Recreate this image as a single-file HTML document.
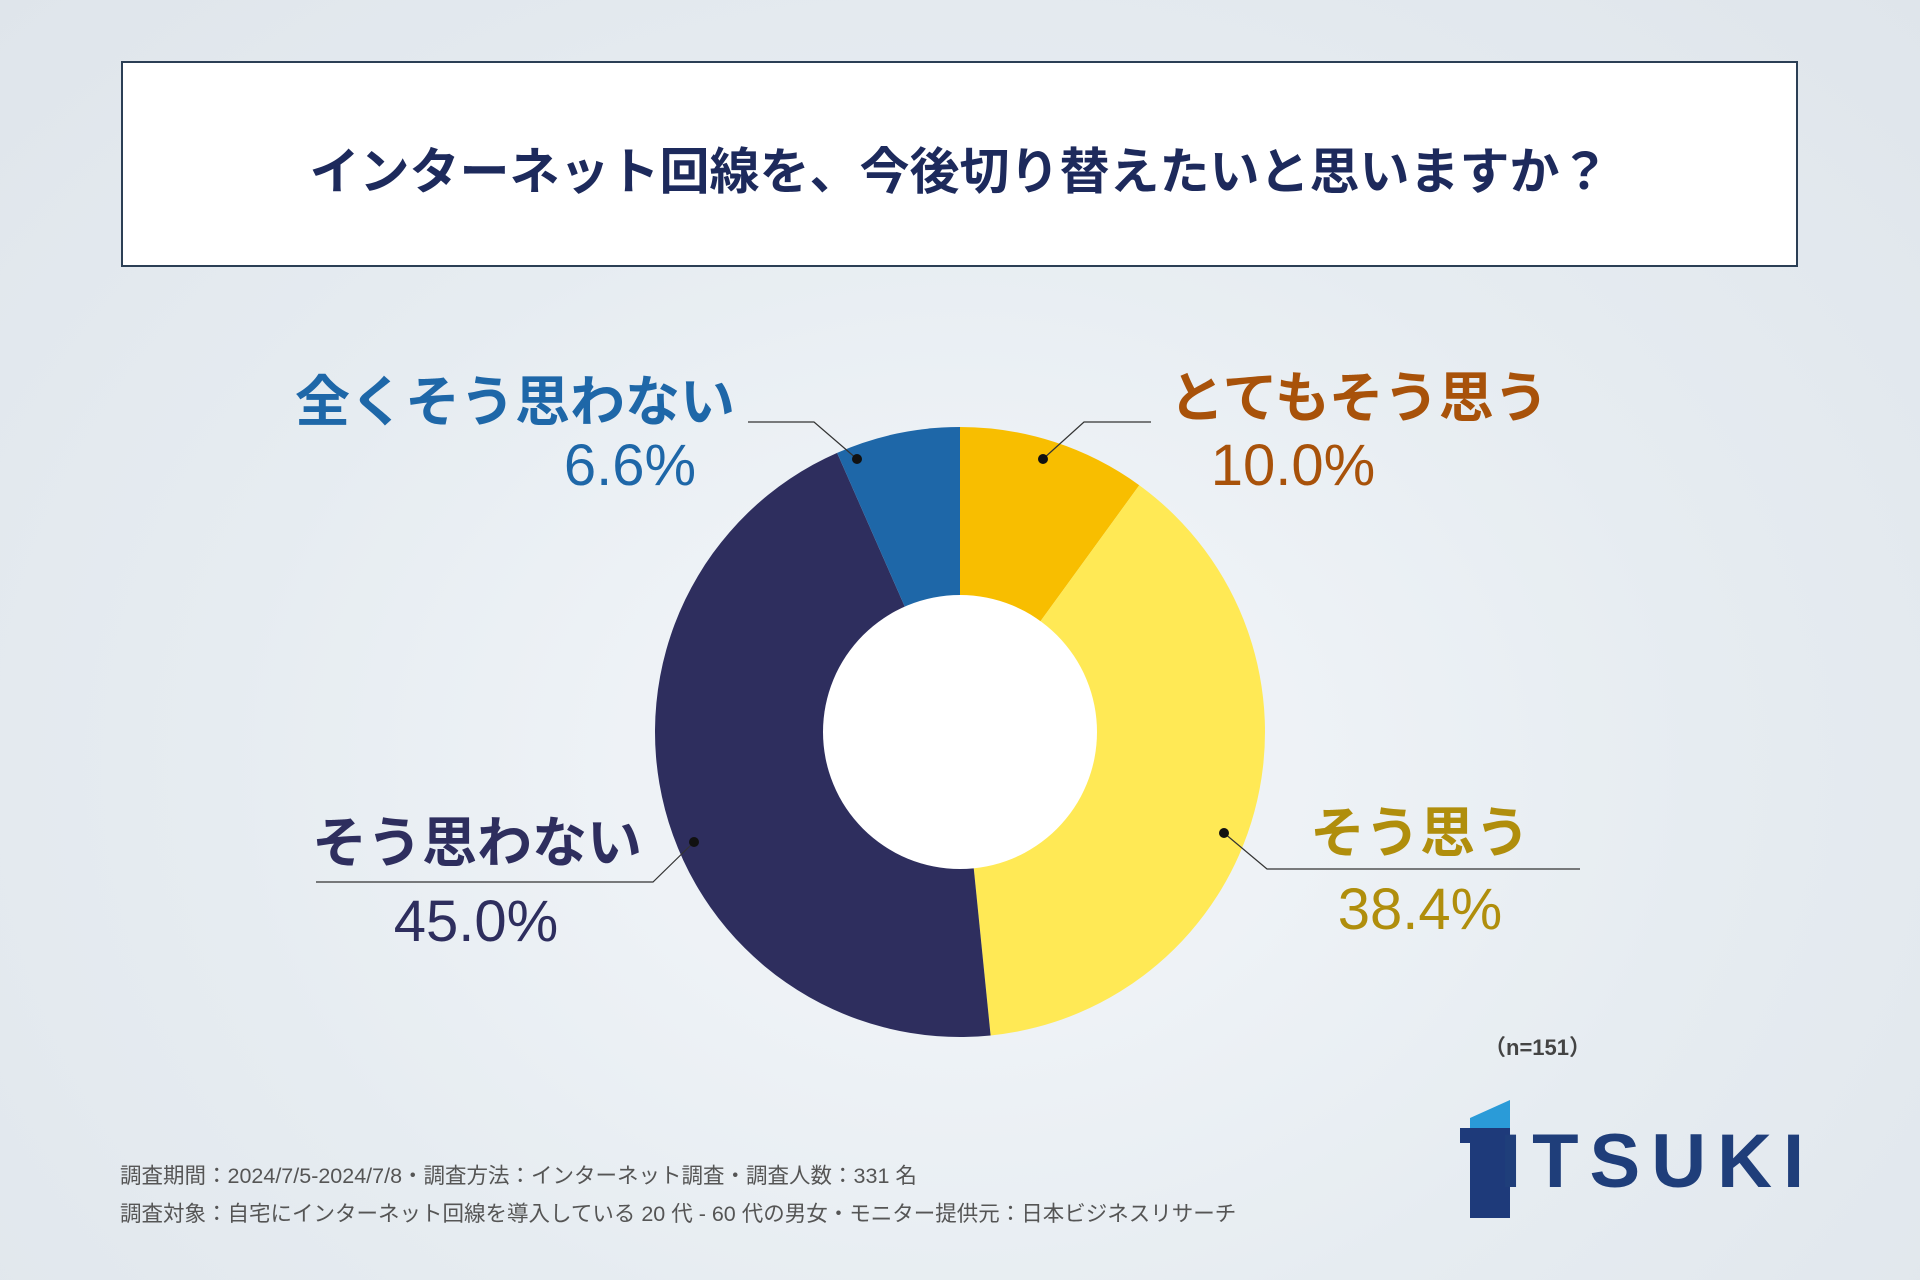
<!DOCTYPE html>
<html><head><meta charset="utf-8"><style>
body{margin:0;width:1920px;height:1280px;overflow:hidden;font-family:"Liberation Sans","Noto Sans CJK JP",sans-serif;}
#bg{position:absolute;left:0;top:0;width:1920px;height:1280px;background:radial-gradient(ellipse at 50% 60%,#f4f7fa 0%,#e6ecf1 55%,#dfe5eb 100%);}
.t{position:absolute;font-weight:700;white-space:nowrap;}
</style></head><body>
<div id="bg"></div>
<div style="position:absolute;left:121px;top:61px;width:1673px;height:202px;background:#fff;border:2px solid #2b3f55;"></div>
<div class="t" style="left:121px;width:1677px;top:132px;text-align:center;font-size:50px;color:#1d2a5c;">インターネット回線を、今後切り替えたいと思いますか？</div>
<svg id="chart" width="1920" height="1280" style="position:absolute;left:0;top:0"></svg>
<div class="t" style="left:1484px;top:1030px;font-size:22px;color:#444;">（n=151）</div>
<div class="t" style="left:120px;top:1159px;font-size:21.5px;color:#555;font-weight:400;">調査期間：2024/7/5-2024/7/8・調査方法：インターネット調査・調査人数：331 名</div>
<div class="t" style="left:120px;top:1197px;font-size:21.5px;color:#555;font-weight:400;">調査対象：自宅にインターネット回線を導入している 20 代 - 60 代の男女・モニター提供元：日本ビジネスリサーチ</div>
<svg width="80" height="130" style="position:absolute;left:1450px;top:1098px">
<polygon points="20,20 60,2 60,40 20,40" fill="#2a9bd8"/>
<polygon points="10,30 60,30 60,120 20,120 20,45 10,45" fill="#1e3a7a"/>
</svg>
<div class="t" style="left:1500px;top:1118px;font-size:76px;color:#1f3e7a;letter-spacing:11px;">ITSUKI</div>
<script>
const categories=["とてもそう思う","そう思う","そう思わない","全くそう思わない"];
const values=[10.0,38.4,45.0,6.6];
const colors=["#F8BE00","#FFE955","#2E2E5E","#1E67A8"];
const labelColors=["#A8520A","#B08E0C","#2E2E5E","#1E67A8"];
const svg=document.getElementById('chart');
const NS="http://www.w3.org/2000/svg";
const cx=960,cy=732,R=305,r=137;
const total=values.reduce((a,b)=>a+b,0);
function pt(a,rad){return [cx+rad*Math.sin(a),cy-rad*Math.cos(a)];}
let acc=0;
values.forEach((v,i)=>{
 const a0=acc/total*2*Math.PI;acc+=v;const a1=acc/total*2*Math.PI;
 const lg=(a1-a0)>Math.PI?1:0;
 const p0=pt(a0,R),p1=pt(a1,R);
 const p=document.createElementNS(NS,'path');
 p.setAttribute('d',`M${cx},${cy}L${p0[0]},${p0[1]}A${R},${R} 0 ${lg} 1 ${p1[0]},${p1[1]}Z`);
 p.setAttribute('fill',colors[i]);
 
 
 svg.appendChild(p);
});
const hole=document.createElementNS(NS,'circle');
hole.setAttribute('cx',cx);hole.setAttribute('cy',cy);hole.setAttribute('r',r);hole.setAttribute('fill','#fff');


svg.appendChild(hole);
const leaders=[[[1043,459],[1084,422],[1151,422]],[[1224,833],[1267,869],[1580,869]],[[694,842],[653,882],[316,882]],[[857,459],[814,422],[748,422]]];
leaders.forEach((l,i)=>{
 const pl=document.createElementNS(NS,'polyline');
 pl.setAttribute('points',l.map(q=>q.join(',')).join(' '));
 pl.setAttribute('fill','none');pl.setAttribute('stroke','#333');pl.setAttribute('stroke-width','1.2');
 
 
 svg.appendChild(pl);
 const d=document.createElementNS(NS,'circle');
 d.setAttribute('cx',l[0][0]);d.setAttribute('cy',l[0][1]);d.setAttribute('r',5);d.setAttribute('fill','#111');
 
 
 svg.appendChild(d);
});
const lpos=[[1359,398,465,'middle'],[1420,833,909,'middle'],[477,843,921,'middle'],[515,402,465,'middle']];
const vpos=[1293,1420,476,630];
categories.forEach((c,i)=>{
 const t=document.createElementNS(NS,'text');
 t.setAttribute('x',lpos[i][0]);t.setAttribute('y',lpos[i][1]+19);t.setAttribute('text-anchor',lpos[i][3]);
 t.setAttribute('font-size','55');t.setAttribute('font-weight','700');t.setAttribute('fill',labelColors[i]);
 t.setAttribute('font-family','"Liberation Sans","Noto Sans CJK JP",sans-serif');
 t.textContent=c;
 
 
 svg.appendChild(t);
 const v=document.createElementNS(NS,'text');
 v.setAttribute('x',vpos[i]);v.setAttribute('y',lpos[i][2]+20);v.setAttribute('text-anchor','middle');
 v.setAttribute('font-size','58');v.setAttribute('font-weight','400');v.setAttribute('fill',labelColors[i]);
 v.setAttribute('font-family','"Liberation Sans","Noto Sans CJK JP",sans-serif');
 v.textContent=values[i].toFixed(1)+'%';
 
 
 svg.appendChild(v);
});
</script>
</body></html>
